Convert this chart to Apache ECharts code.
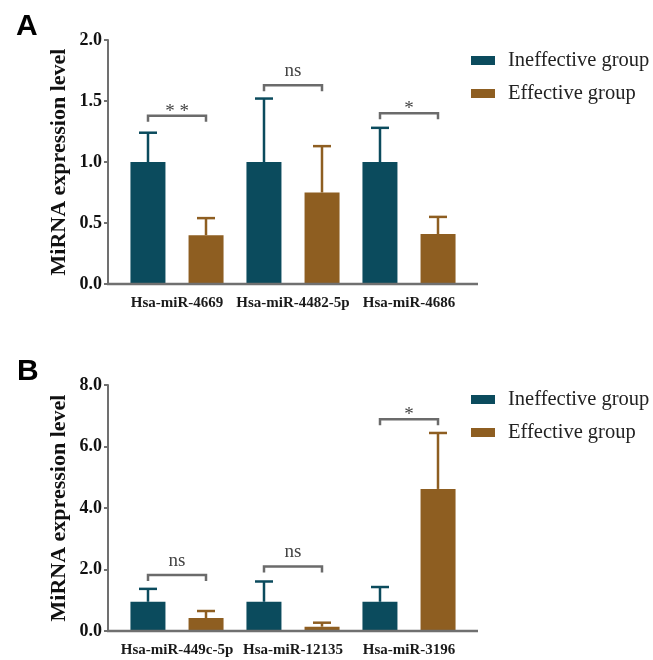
<!DOCTYPE html>
<html>
<head>
<meta charset="utf-8">
<script src="https://cdn.jsdelivr.net/npm/echarts@6/dist/echarts.min.js"></script>
<style>
html,body{margin:0;padding:0;background:#fff;}
#chart{width:653px;height:660px;}
</style>
</head>
<body>
<div id="chart"></div>
<script>
// ---- Data ----
const seriesNames = ['Ineffective group', 'Effective group'];

const categoriesA = ['Hsa-miR-4669', 'Hsa-miR-4482-5p', 'Hsa-miR-4686'];
const ineffectiveA = [1.0, 1.0, 1.0];
const ineffectiveUpperA = [1.24, 1.52, 1.28];
const effectiveA = [0.40, 0.75, 0.41];
const effectiveUpperA = [0.54, 1.13, 0.55];
const bracketLevelA = [1.38, 1.63, 1.40];
const bracketLabelA = ['**', 'ns', '*'];
const yTicksA = { min: 0, max: 2, interval: 0.5 };

const categoriesB = ['Hsa-miR-449c-5p', 'Hsa-miR-12135', 'Hsa-miR-3196'];
const ineffectiveB = [0.95, 0.95, 0.95];
const ineffectiveUpperB = [1.37, 1.61, 1.43];
const effectiveB = [0.42, 0.14, 4.62];
const effectiveUpperB = [0.65, 0.27, 6.44];
const bracketLevelB = [1.82, 2.10, 6.89];
const bracketLabelB = ['ns', 'ns', '*'];
const yTicksB = { min: 0, max: 8, interval: 2 };

// ---- Styles ----
const colTeal = '#0b4b5d';
const colBrown = '#8e5e21';
const axisCol = '#707070';
const serif = "'Liberation Serif', 'Times New Roman', serif";
const barW = 35;
const barOffset = 29;   // half distance between bar centres in a group
const gridL = 119, gridW = 348, axisExt = 11;
const grids = [
  { left: gridL, top: 40, width: gridW, height: 244 },
  { left: gridL, top: 385, width: gridW, height: 246 }
];

function errRender(offset, color) {
  return function (params, api) {
    const x = api.value(0);
    const lo = api.coord([x, api.value(1)]);
    const hi = api.coord([x, api.value(2)]);
    const cx = lo[0] + offset;
    return {
      type: 'group',
      children: [
        { type: 'line', shape: { x1: cx, y1: lo[1], x2: cx, y2: hi[1] }, style: { stroke: color, lineWidth: 2.5 } },
        { type: 'line', shape: { x1: cx - 9, y1: hi[1], x2: cx + 9, y2: hi[1] }, style: { stroke: color, lineWidth: 2.5 } }
      ]
    };
  };
}

function bracketRender(labels) {
  return function (params, api) {
    const x = api.value(0);
    const p = api.coord([x, api.value(1)]);
    const x1 = p[0] - barOffset, x2 = p[0] + barOffset, y = p[1];
    const lab = labels[params.dataIndex];
    const isStar = lab.indexOf('*') >= 0;
    return {
      type: 'group',
      children: [
        { type: 'polyline', shape: { points: [[x1, y + 6], [x1, y], [x2, y], [x2, y + 6]] },
          style: { stroke: '#6b6b6b', lineWidth: 2.5, fill: null } },
        { type: 'text', x: p[0], y: isStar ? y - 4 : y - 14,
          style: { text: isStar ? lab.split('').join(' ') : lab, fontFamily: serif, fontSize: 19, fill: '#444',
                   align: 'center', verticalAlign: 'middle' } }
      ]
    };
  };
}

function panelAxes(gi, cats, ticks) {
  const x = {
    type: 'category', gridIndex: gi, data: cats,
    axisLine: { show: false }, axisTick: { show: false },
    axisLabel: { fontFamily: serif, fontWeight: 'bold', fontSize: 15, color: '#1a1a1a', margin: 12, interval: 0 }
  };
  const y = {
    type: 'value', gridIndex: gi, min: ticks.min, max: ticks.max, interval: ticks.interval,
    offset: axisExt,
    name: 'MiRNA expression level', nameLocation: 'middle', nameGap: 38, nameRotate: 90,
    nameMoveOverlap: false,
    nameTextStyle: { fontFamily: serif, fontWeight: 'bold', fontSize: 22, color: '#111' },
    axisLine: { show: true, lineStyle: { color: axisCol, width: 2 } },
    axisTick: { show: true, length: 4, lineStyle: { color: axisCol, width: 2 } },
    splitLine: { show: false },
    axisLabel: { fontFamily: serif, fontWeight: 'bold', fontSize: 18, color: '#111', margin: 6,
                 formatter: v => v.toFixed(1) }
  };
  return [x, y];
}

const [xA, yA] = panelAxes(0, categoriesA, yTicksA);
const [xB, yB] = panelAxes(1, categoriesB, yTicksB);

function barSeries(name, gi, data, color) {
  return { name: name, type: 'bar', xAxisIndex: gi, yAxisIndex: gi, data: data,
           barWidth: barW, barGap: '66%', itemStyle: { color: color }, z: 2 };
}
function errSeries(gi, vals, upper, offset, color) {
  return { type: 'custom', xAxisIndex: gi, yAxisIndex: gi,
           data: vals.map((v, i) => [i, v, upper[i]]), renderItem: errRender(offset, color), z: 3, silent: true };
}
function bracketSeries(gi, levels, labels) {
  return { type: 'custom', xAxisIndex: gi, yAxisIndex: gi,
           data: levels.map((v, i) => [i, v]), renderItem: bracketRender(labels), z: 3, silent: true };
}

function legend(top) {
  return {
    data: seriesNames, orient: 'vertical', left: 466, top: top,
    icon: 'rect', itemWidth: 24, itemHeight: 9, itemGap: 12,
    textStyle: { fontFamily: serif, fontSize: 20.5, color: '#222', padding: [0, 0, 0, 8] },
    selectedMode: false
  };
}

const chart = echarts.init(document.getElementById('chart'), null, { renderer: 'canvas' });

const axisLines = grids.map(g => ({
  type: 'line', z: 5,
  shape: { x1: g.left - axisExt - 1, y1: g.top + g.height, x2: g.left + g.width + axisExt, y2: g.top + g.height },
  style: { stroke: axisCol, lineWidth: 2.5 }
}));

chart.setOption({
  animation: false,
  backgroundColor: '#fff',
  title: [
    { text: 'A', left: 11, top: 7, textStyle: { fontFamily: "'Liberation Sans', Arial, sans-serif", fontWeight: 'bold', fontSize: 30, color: '#000' } },
    { text: 'B', left: 12, top: 352, textStyle: { fontFamily: "'Liberation Sans', Arial, sans-serif", fontWeight: 'bold', fontSize: 30, color: '#000' } }
  ],
  legend: [legend(45), legend(384)],
  grid: grids,
  xAxis: [xA, xB],
  yAxis: [yA, yB],
  series: [
    barSeries(seriesNames[0], 0, ineffectiveA, colTeal),
    barSeries(seriesNames[1], 0, effectiveA, colBrown),
    errSeries(0, ineffectiveA, ineffectiveUpperA, -barOffset, colTeal),
    errSeries(0, effectiveA, effectiveUpperA, barOffset, colBrown),
    bracketSeries(0, bracketLevelA, bracketLabelA),
    barSeries(seriesNames[0], 1, ineffectiveB, colTeal),
    barSeries(seriesNames[1], 1, effectiveB, colBrown),
    errSeries(1, ineffectiveB, ineffectiveUpperB, -barOffset, colTeal),
    errSeries(1, effectiveB, effectiveUpperB, barOffset, colBrown),
    bracketSeries(1, bracketLevelB, bracketLabelB)
  ],
  graphic: axisLines
});
</script>
</body>
</html>
